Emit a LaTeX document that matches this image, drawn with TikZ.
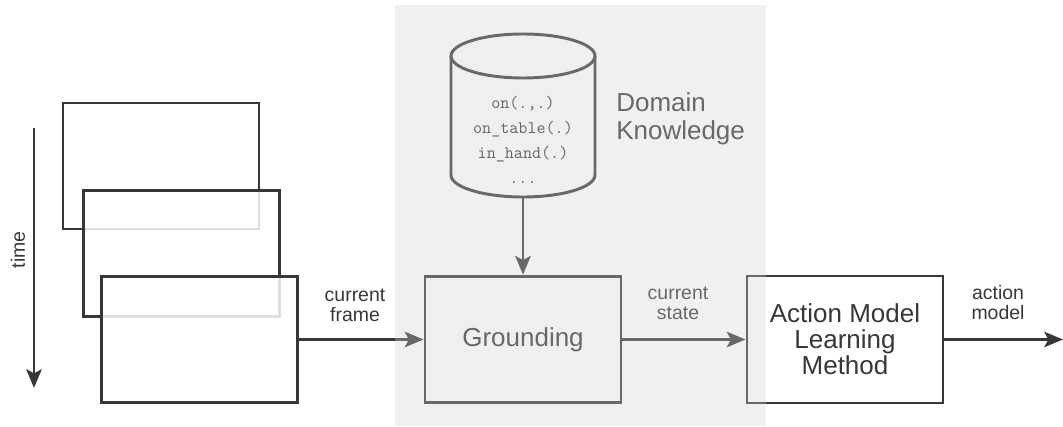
\documentclass[tikz,border=0pt]{standalone}
\usepackage{fontspec}
\setmainfont{Liberation Sans}
\usetikzlibrary{arrows.meta}
\definecolor{dk}{RGB}{55,55,55}
\definecolor{panelc}{RGB}{208,208,208}
\begin{document}
\begin{tikzpicture}[x=0.75pt,y=-0.75pt,
  framebox/.style={draw=dk, fill=white, fill opacity=0.84, draw opacity=1, line width=2.2pt, inner sep=0pt, minimum width=147pt, minimum height=94.5pt},
  procbox/.style={draw=dk, fill=white, line width=2.2pt, inner sep=0pt, minimum width=147pt, minimum height=95pt, align=center, text=dk},
  conn/.style={draw=dk, line width=2.2pt, -{Stealth[length=14pt, width=11.5pt, inset=3pt]}},
  lab/.style={font=\fontsize{14.6}{15}\selectfont, text=dk, align=center, inner sep=0pt},
  big/.style={font=\fontsize{19.5}{19.5}\selectfont}]
\useasboundingbox (0,0) rectangle (1063,427);
% frames
\node[framebox] (frame1) at (161,166) {};
\node[framebox] (frame2) at (181.5,253.5) {};
\node[framebox] (frame3) at (199.5,339.5) {};
% time arrow
\coordinate (ttop) at (34,128);
\coordinate (tbot) at (34,388);
\draw[conn] (ttop) -- (tbot);
\node[lab, rotate=90] (timelab) at (18,250) {time};
% grounding
\node[procbox, big] (ground) at (523,339.5) {Grounding};
% action model
\node[procbox, big, minimum height=95.25pt] (act) at (845,339.5) {Action Model\\Learning\\Method};
% cylinder
\fill[white] (451,56) -- (451,175) arc (180:0:72 and 22) -- (595,56) -- cycle;
\draw[dk, line width=2.2pt] (451,56) -- (451,175) arc (180:0:72 and 22) -- (595,56);
\draw[dk, line width=2.2pt, fill=white] (523,56) ellipse (72 and 22);
\node[align=center, inner sep=0pt, text=black!80, font=\ttfamily\fontsize{13.2}{18.75}\selectfont] (db) at (523,140) {on(.,.)\\on\_table(.)\\in\_hand(.)\\...};
\coordinate (dbb) at (523,197);
\node[anchor=west, inner sep=0pt, align=left, text=dk, font=\fontsize{19.5}{21}\selectfont] (dk) at (616,119) {Domain\\Knowledge};
% connectors
\draw[conn] (dbb) -- (ground.north);
\draw[conn] (frame3.east) -- (ground.west);
\draw[conn] (ground.east) -- (act.west);
\coordinate (out) at (1063,339.5);
\draw[conn] (act.east) -- (out);
% labels
\node[lab] (lframe) at (355,305) {current\\frame};
\node[lab] (lstate) at (678,303) {current\\state};
\node[lab] (lmodel) at (998,303) {action\\model};
% panel overlay
\fill[panelc, opacity=0.32] (395,5) rectangle (766,426);
\end{tikzpicture}
\end{document}
